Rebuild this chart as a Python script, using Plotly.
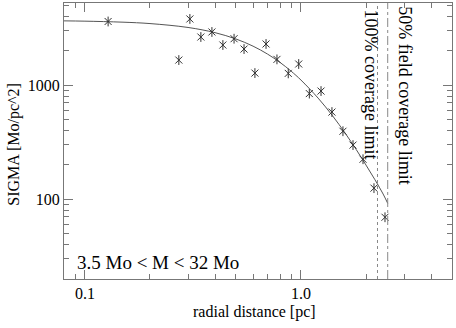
import plotly.graph_objects as go

# observed surface density (asterisks)
radius = [0.128, 0.272, 0.306, 0.344, 0.387, 0.435, 0.490, 0.545, 0.612, 0.689,
          0.774, 0.873, 0.976, 1.093, 1.238, 1.391, 1.564, 1.741, 1.937, 2.177, 2.448]
sigma = [3606, 1656, 3795, 2636, 2918, 2243, 2547, 2068, 1274, 2291,
         1679, 1266, 1529, 842, 886, 580, 394, 298, 224, 125, 69.5]

# fitted profile
fit_r = [0.08, 0.1, 0.15, 0.2, 0.3, 0.4, 0.5, 0.6, 0.7, 0.8, 0.9, 1.0,
         1.2, 1.4, 1.6, 1.8, 2.0, 2.2, 2.4, 2.52]
fit_sigma = [3651, 3630, 3556, 3458, 3197, 2879, 2534, 2192, 1869, 1578, 1324, 1106,
             769, 538, 380, 273, 199, 148, 111, 92]

limit_100 = 2.26
limit_50 = 2.52

x_ticks = [0.1, 1.0]
x_tick_text = ["0.1", "1.0"]
y_ticks = [100, 1000]
y_tick_text = ["100", "1000"]

FONT = "Liberation Serif, Times New Roman, serif"
INK = "#333333"
FRAME = "#777777"

fig = go.Figure()

fig.add_trace(go.Scatter(
    x=fit_r, y=fit_sigma, mode="lines", line_shape="spline",
    line={"color": "#555555", "width": 1}, hoverinfo="skip",
))
for sym in ["x-thin-open", "line-ns-open"]:
    fig.add_trace(go.Scatter(
        x=radius, y=sigma, mode="markers",
        marker={"symbol": sym, "size": 7, "color": INK,
                "line": {"color": INK, "width": 1}},
    ))

fig.add_vline(x=limit_100, line={"color": "#888888", "width": 1, "dash": "dot"})
fig.add_vline(x=limit_50, line={"color": "#888888", "width": 1, "dash": "dashdot"})

ann_font = {"family": FONT, "size": 19, "color": "black"}
side_font = {"family": FONT, "size": 18, "color": "black"}
fig.add_annotation(x=0.0284, y=0.058, xref="paper", yref="paper", xanchor="left",
                   yanchor="middle", text="3.5 Mo &lt; M &lt; 32 Mo", showarrow=False,
                   font=ann_font)
fig.add_annotation(x=0.79, y=0.985, xref="paper", yref="paper", xanchor="center",
                   yanchor="top", text="100% coverage limit", textangle=90,
                   showarrow=False, font=side_font)
fig.add_annotation(x=0.8789, y=0.995, xref="paper", yref="paper", xanchor="center",
                   yanchor="top", text="50% field coverage limit", textangle=90,
                   showarrow=False, font=side_font)
fig.add_annotation(x=0.4897, y=-0.1196, xref="paper", yref="paper", xanchor="center",
                   yanchor="middle", text="radial distance [pc]", showarrow=False,
                   font={"family": FONT, "size": 16, "color": "black"})
fig.add_annotation(x=-0.1289, y=0.49, xref="paper", yref="paper", xanchor="center",
                   yanchor="middle", text="SIGMA [Mo/pc^2]", textangle=-90,
                   showarrow=False, font={"family": FONT, "size": 16, "color": "black"})

axis_common = dict(
    showgrid=False, zeroline=False, showline=True, linecolor=FRAME, linewidth=1,
    mirror="allticks", ticks="inside", ticklen=9, tickcolor=FRAME, tickwidth=1,
    automargin=False,
    tickfont={"family": FONT, "size": 16, "color": "black"},
    minor={"ticks": "inside", "ticklen": 5, "tickcolor": FRAME, "dtick": "D1",
           "showgrid": False},
)
fig.update_xaxes(type="log", range=[-1.097, 0.699], tickvals=x_ticks,
                 ticktext=x_tick_text, **axis_common)
fig.update_yaxes(type="log", range=[1.301, 3.719], tickvals=y_ticks,
                 ticktext=y_tick_text, **axis_common)

fig.update_layout(
    width=456, height=328, showlegend=False,
    margin={"l": 64, "r": 4, "t": 3, "b": 49},
    paper_bgcolor="white", plot_bgcolor="white",
    font={"family": FONT},
)

fig.write_html("out.html", config={"displayModeBar": False},
               post_script="document.body.style.margin='0';")
